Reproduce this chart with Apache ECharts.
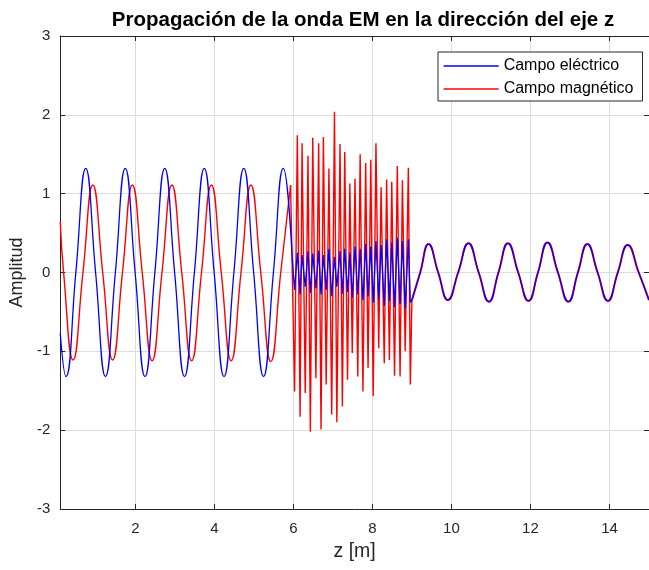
<!DOCTYPE html>
<html>
<head>
<meta charset="utf-8">
<script src="https://cdn.jsdelivr.net/npm/echarts@6/dist/echarts.min.js"></script>
<style>
  html, body { margin: 0; padding: 0; background: #ffffff; }
  #chart { width: 649px; height: 570px; }
</style>
</head>
<body>
<div id="chart"></div>
<script>
// Tick positions along z (metres)
const ticksZ = [2, 4, 6, 8, 10, 12, 14];

// Electric field before the interface (z < 6 m): [z, amplitude]
const electricoIncidente = [
  [0.1, -0.77], [0.245, -1.32], [0.495, 0], [0.745, 1.32], [0.995, 0],
  [1.245, -1.32], [1.495, 0], [1.745, 1.32], [1.995, 0],
  [2.245, -1.32], [2.495, 0], [2.745, 1.32], [2.995, 0],
  [3.245, -1.32], [3.495, 0], [3.745, 1.32], [3.995, 0],
  [4.245, -1.32], [4.495, 0], [4.745, 1.32], [4.995, 0],
  [5.245, -1.32], [5.495, 0], [5.745, 1.32], [5.97, 0.2]
];

// Electric field inside the 6–9 m region
const electricoInterfaz = [
  [6.03, -0.22], [6.10, 0.25], [6.17, -0.28], [6.22, 0.22], [6.30, -0.18],
  [6.37, 0.27], [6.43, -0.26], [6.49, 0.24], [6.57, -0.20], [6.64, 0.28],
  [6.70, -0.28], [6.76, 0.22], [6.83, -0.22], [6.90, 0.30], [6.97, -0.30],
  [7.04, 0.20], [7.10, -0.18], [7.18, 0.27], [7.24, -0.27], [7.30, 0.30],
  [7.37, -0.25], [7.43, 0.25], [7.49, -0.32], [7.56, 0.33], [7.63, -0.28],
  [7.69, 0.30], [7.76, -0.35], [7.83, 0.36], [7.89, -0.30], [7.96, 0.33],
  [8.02, -0.38], [8.09, 0.40], [8.16, -0.34], [8.22, 0.35], [8.30, -0.42],
  [8.36, 0.42], [8.43, -0.36], [8.49, 0.38], [8.56, -0.44], [8.63, 0.44],
  [8.70, -0.40], [8.76, 0.40], [8.83, -0.45], [8.91, 0.42], [8.96, -0.38]
];

// Magnetic field before the interface (z < 6 m)
const magneticoIncidente = [
  [0.1, 0.645], [0.185, 0], [0.425, -1.11], [0.675, 0], [0.925, 1.11],
  [1.175, 0], [1.425, -1.11], [1.675, 0], [1.925, 1.11],
  [2.175, 0], [2.425, -1.12], [2.675, 0], [2.925, 1.11],
  [3.175, 0], [3.425, -1.12], [3.675, 0], [3.925, 1.11],
  [4.175, 0], [4.425, -1.12], [4.675, 0], [4.925, 1.11],
  [5.175, 0], [5.43, -1.13], [5.68, 0], [5.93, 1.11]
];

// Magnetic field inside the 6–9 m region
const magneticoInterfaz = [
  [6.03, -1.51], [6.10, 1.74], [6.17, -1.83], [6.22, 1.64], [6.30, -1.53],
  [6.37, 1.48], [6.43, -2.02], [6.49, 1.71], [6.57, -1.34], [6.64, 1.64],
  [6.70, -1.99], [6.76, 1.72], [6.83, -1.42], [6.90, 1.32], [6.97, -1.80],
  [7.04, 2.04], [7.10, -1.90], [7.18, 1.63], [7.24, -1.70], [7.30, 1.53],
  [7.37, -1.36], [7.43, 1.13], [7.49, -1.02], [7.56, 1.19], [7.63, -1.32],
  [7.69, 1.50], [7.76, -1.51], [7.83, 1.39], [7.89, -1.21], [7.96, 1.43],
  [8.02, -1.57], [8.09, 1.64], [8.16, -0.96], [8.22, 1.08], [8.30, -1.15],
  [8.36, 1.18], [8.43, -1.11], [8.49, 1.15], [8.56, -1.31], [8.63, 1.35],
  [8.70, -1.32], [8.76, 1.17], [8.83, -1.00], [8.91, 1.33], [8.96, -1.42]
];

// Transmitted wave beyond 9 m (both fields coincide)
const campoTransmitido = [
  [9.0, -0.35], [9.21, 0], [9.42, 0.36], [9.665, 0], [9.91, -0.35],
  [10.17, 0], [10.43, 0.37], [10.69, 0], [10.95, -0.37],
  [11.19, 0], [11.43, 0.37], [11.69, 0], [11.95, -0.36],
  [12.19, 0], [12.43, 0.38], [12.695, 0], [12.96, -0.37],
  [13.2, 0], [13.44, 0.36], [13.7, 0], [13.96, -0.36],
  [14.21, 0], [14.46, 0.35], [14.74, 0], [15.0, -0.35]
];

const NOMBRE_E = 'Campo eléctrico';
const NOMBRE_B = 'Campo magnético';
const AZUL = '#0000ff';
const ROJO = '#ff0000';
const FUENTE = '"Liberation Sans", Arial, Helvetica, sans-serif';
const EJE = '#262626';

function tramo(nombre, color, datos, suave, z, ancho) {
  return {
    name: nombre, type: 'line', data: datos,
    smooth: suave, showSymbol: false, symbol: 'none',
    color: color, z: z,
    itemStyle: { color: color, opacity: 0 },
    lineStyle: { color: color, width: ancho },
    emphasis: { disabled: true }, silent: true, clip: true
  };
}

const ultimo = a => a[a.length - 1];

const series = [
  tramo(NOMBRE_B, ROJO, magneticoIncidente, 0.5, 2, 1.4),
  tramo(NOMBRE_B, ROJO, [ultimo(magneticoIncidente), ...magneticoInterfaz, campoTransmitido[0]], false, 2, 1.4),
  tramo(NOMBRE_B, ROJO, campoTransmitido, 0.5, 2, 2.0),
  tramo(NOMBRE_E, AZUL, electricoIncidente, 0.5, 3, 1.3),
  tramo(NOMBRE_E, AZUL, [ultimo(electricoIncidente), ...electricoInterfaz, campoTransmitido[0]], false, 3, 1.3),
  tramo(NOMBRE_E, AZUL, campoTransmitido, 0.5, 3, 1.2)
];

const chart = echarts.init(document.getElementById('chart'), null, { renderer: 'canvas' });
chart.setOption({
  animation: false,
  backgroundColor: '#ffffff',
  title: {
    text: 'Propagación de la onda EM en la dirección del eje z',
    left: 358, top: 5, textAlign: 'center',
    textStyle: { fontFamily: FUENTE, fontSize: 20.5, fontWeight: 'bold', color: '#000' }
  },
  legend: {
    data: [NOMBRE_E, NOMBRE_B],
    orient: 'vertical', left: 438, top: 52,
    itemWidth: 55, itemHeight: 14, itemGap: 7,
    padding: [6, 9, 4, 5],
    borderColor: EJE, borderWidth: 1, borderRadius: 0,
    backgroundColor: '#ffffff',
    itemStyle: { opacity: 0 },
    lineStyle: { width: 1.3 },
    textStyle: { fontFamily: FUENTE, fontSize: 16, color: '#000' },
    selectedMode: false
  },
  grid: { left: 59, top: 36, width: 597, height: 473, containLabel: false },
  xAxis: [{
    type: 'value', min: 0.1, max: 15,
    name: 'z [m]', nameLocation: 'middle', nameGap: 33,
    nameTextStyle: { fontFamily: FUENTE, fontSize: 19.5, color: EJE },
    axisLine: { show: true, onZero: false, lineStyle: { color: EJE, width: 1 } },
    axisTick: { show: true, inside: true, length: 5, customValues: ticksZ, lineStyle: { color: EJE } },
    axisLabel: { customValues: ticksZ, margin: 12, fontFamily: FUENTE, fontSize: 15, color: EJE },
    splitLine: { show: true, lineStyle: { color: '#dcdcdc', width: 1 } }
  }, {
    type: 'value', min: 0.1, max: 15, position: 'top',
    axisLine: { show: true, onZero: false, lineStyle: { color: EJE, width: 1 } },
    axisTick: { show: true, inside: true, length: 5, customValues: ticksZ, lineStyle: { color: EJE } },
    axisLabel: { show: false },
    splitLine: { show: false }
  }],
  yAxis: [{
    type: 'value', min: -3, max: 3, interval: 1,
    name: 'Amplitud', nameLocation: 'middle', nameGap: 32, nameRotate: 90,
    nameTextStyle: { fontFamily: FUENTE, fontSize: 18, color: EJE },
    axisLine: { show: true, onZero: false, lineStyle: { color: EJE, width: 1 } },
    axisTick: { show: true, inside: true, length: 5, lineStyle: { color: EJE } },
    axisLabel: { margin: 10, fontFamily: FUENTE, fontSize: 15, color: EJE },
    splitLine: { show: true, lineStyle: { color: '#dcdcdc', width: 1 } }
  }, {
    type: 'value', min: -3, max: 3, interval: 1, position: 'right',
    axisLine: { show: true, onZero: false, lineStyle: { color: EJE, width: 1 } },
    axisTick: { show: true, inside: true, length: 5, lineStyle: { color: EJE } },
    axisLabel: { show: false },
    splitLine: { show: false }
  }],
  series: series
});
</script>
</body>
</html>
